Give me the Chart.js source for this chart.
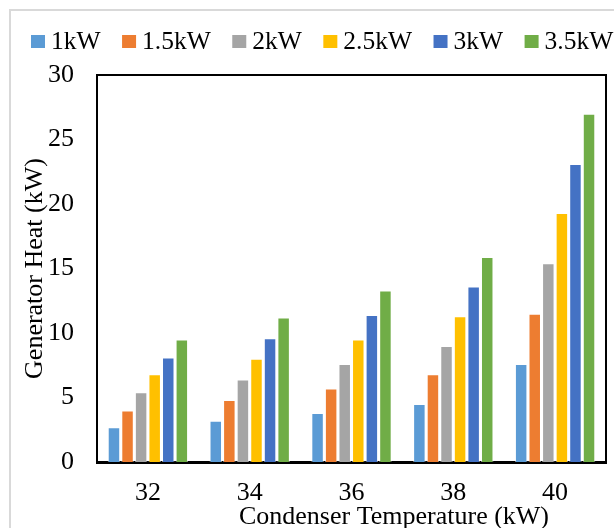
<!DOCTYPE html>
<html>
<head>
<meta charset="utf-8">
<script src="https://cdn.jsdelivr.net/npm/chart.js@4/dist/chart.umd.min.js"></script>
<style>
  html, body { margin: 0; padding: 0; background: #fff; overflow: hidden; }
  #wrap { position: relative; width: 614px; height: 528px; overflow: hidden; }
  #frame { position: absolute; left: 9px; top: 9px; width: 700px; height: 600px; border: 2px solid #d9d9d9; }
  #chart { position: absolute; left: 0; top: 0; }
</style>
</head>
<body>
<div id="wrap">
  <div id="frame"></div>
  <canvas id="chart" width="614" height="528"></canvas>
</div>
<script>
const temps = ['32', '34', '36', '38', '40'];
const seriesNames = ['1kW', '1.5kW', '2kW', '2.5kW', '3kW', '3.5kW'];
const seriesColors = ['#5B9BD5', '#ED7D31', '#A5A5A5', '#FFC000', '#4472C4', '#70AD47'];

const heat1 = [2.7, 3.2, 3.8, 4.5, 7.6];
const heat15 = [4.0, 4.8, 5.7, 6.8, 11.5];
const heat2 = [5.4, 6.4, 7.6, 9.0, 15.4];
const heat25 = [6.8, 8.0, 9.5, 11.3, 19.3];
const heat3 = [8.1, 9.6, 11.4, 13.6, 23.1];
const heat35 = [9.5, 11.2, 13.3, 15.9, 27.0];
const allHeat = [heat1, heat15, heat2, heat25, heat3, heat35];

const yMin = 0, yMax = 30, yStep = 5;

const serif = '"Liberation Serif", "Times New Roman", serif';

// legend row across the top, plus axis titles and the closed plot frame
const decorPlugin = {
  id: 'decor',
  afterDraw(chart) {
    const ctx = chart.ctx;
    const area = chart.chartArea;
    ctx.save();

    // top and right edges of the plot box
    ctx.strokeStyle = '#000';
    ctx.lineWidth = 2;
    ctx.beginPath();
    ctx.moveTo(area.left, area.top);
    ctx.lineTo(area.right, area.top);
    ctx.lineTo(area.right, area.bottom);
    ctx.stroke();

    // legend
    ctx.font = '25.5px ' + serif;
    ctx.textBaseline = 'alphabetic';
    ctx.textAlign = 'left';
    let x = 31;
    chart.data.datasets.forEach(ds => {
      ctx.fillStyle = ds.backgroundColor;
      ctx.fillRect(x, 35, 14, 13);
      ctx.fillStyle = '#000';
      ctx.fillText(ds.label, x + 20, 49);
      x += 20 + ctx.measureText(ds.label).width + 21.5;
    });

    // axis titles
    ctx.font = '26px ' + serif;
    ctx.fillStyle = '#000';
    ctx.textAlign = 'center';
    ctx.fillText('Condenser Temperature (kW)', 394, 524);

    ctx.translate(42, (area.top + area.bottom) / 2);
    ctx.rotate(-Math.PI / 2);
    ctx.textBaseline = 'alphabetic';
    ctx.fillText('Generator Heat (kW)', 0, 0);
    ctx.restore();
  }
};

new Chart(document.getElementById('chart'), {
  type: 'bar',
  data: {
    labels: temps,
    datasets: seriesNames.map((name, i) => ({
      label: name,
      data: allHeat[i],
      backgroundColor: seriesColors[i],
      borderColor: 'rgba(255,255,255,0.55)',
      borderWidth: 1,
      categoryPercentage: 0.8,
      barPercentage: 0.92
    }))
  },
  options: {
    responsive: false,
    animation: false,
    layout: { padding: { top: 75, right: 8, left: 0, bottom: 0 } },
    plugins: {
      legend: { display: false },
      tooltip: { enabled: false }
    },
    scales: {
      x: {
        grid: { display: false, drawTicks: false },
        border: { display: true, color: '#000', width: 3 },
        ticks: { color: '#000', font: { family: serif, size: 26 }, padding: 16 },
        afterFit(scale) { scale.height = 66; }
      },
      y: {
        min: yMin,
        max: yMax,
        grid: { display: false, drawTicks: false },
        border: { display: true, color: '#000', width: 2 },
        ticks: { stepSize: yStep, color: '#000', font: { family: serif, size: 26 }, padding: 23 },
        afterFit(scale) { scale.width = 97; }
      }
    }
  },
  plugins: [decorPlugin]
});
</script>
</body>
</html>
